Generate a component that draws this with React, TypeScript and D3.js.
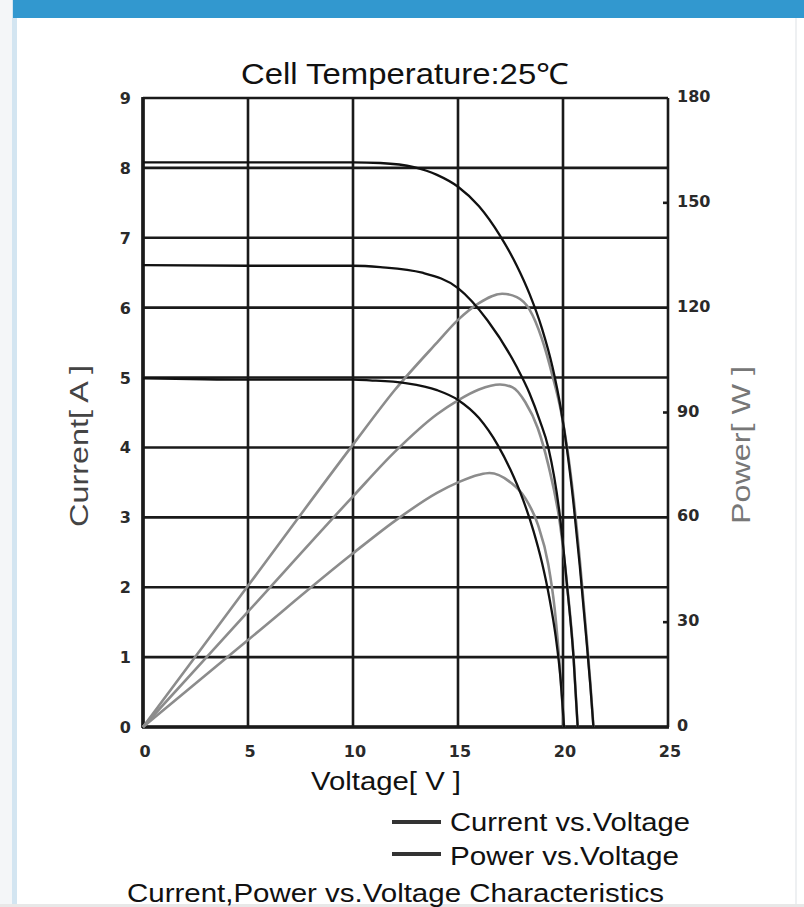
import React from "react";
import * as d3 from "d3";

const width = 804;
const height = 907;

// current vs voltage, three irradiance levels
const ivVoltsHigh = [0, 5, 10, 11.3, 12.9, 14, 15, 16, 17, 17.8, 18.4, 19.0, 19.5, 19.9, 20.2, 20.5, 20.8, 21.1, 21.3, 21.45];
const ivAmpsHigh = [8.08, 8.08, 8.08, 8.07, 8.01, 7.9, 7.73, 7.45, 7.03, 6.6, 6.2, 5.7, 5.15, 4.55, 3.95, 3.2, 2.3, 1.3, 0.6, 0];

const ivVoltsMid = [0, 5, 10, 11.3, 13.3, 15, 16.4, 17.8, 18.4, 18.9, 19.3, 19.86, 20.2, 20.5, 20.7];
const ivAmpsMid = [6.61, 6.6, 6.6, 6.58, 6.5, 6.28, 5.82, 5.15, 4.78, 4.38, 4.0, 3.0, 2.0, 1.0, 0];

const ivVoltsLow = [0, 5, 10, 10.8, 12.5, 14, 15, 16, 16.9, 17.5, 18.1, 18.6, 19.0, 19.35, 19.65, 19.88, 20.05];
const ivAmpsLow = [4.99, 4.97, 4.97, 4.96, 4.92, 4.82, 4.68, 4.42, 4.03, 3.68, 3.25, 2.8, 2.35, 1.85, 1.3, 0.7, 0];

// power vs voltage
const pvVoltsHigh = [0, 5, 10, 12, 14, 15, 16, 17.1, 17.8, 18.4, 19.0, 19.5, 19.9, 20.2, 20.5, 20.8, 21.1, 21.3, 21.45];
const pvWattsHigh = [0, 40.4, 80.8, 96.5, 110, 116.5, 121.3, 124, 123, 119.5, 111, 100.5, 90.5, 79.8, 65.6, 47.8, 27.4, 12.8, 0];

const pvVoltsMid = [0, 5, 10, 12, 14, 15, 16, 17, 17.6, 18.2, 18.8, 19.3, 19.86, 20.2, 20.5, 20.7];
const pvWattsMid = [0, 33, 66, 78.8, 89.5, 93.5, 96.6, 98, 97.2, 93, 85.5, 75, 58, 40.4, 20.5, 0];

const pvVoltsLow = [0, 5, 10, 12, 14, 15, 16, 16.5, 17.5, 18.2, 18.8, 19.3, 19.6, 19.85, 20.05];
const pvWattsLow = [0, 24.9, 49.7, 59, 67, 70, 72.2, 72.7, 70, 65.5, 58, 46.5, 34, 17, 0];

const voltTicks = [0, 5, 10, 15, 20, 25];
const ampTicks = [0, 1, 2, 3, 4, 5, 6, 7, 8, 9];
const wattTicks = [0, 30, 60, 90, 120, 150, 180];

const ivSeries = [
  [ivVoltsHigh, ivAmpsHigh],
  [ivVoltsMid, ivAmpsMid],
  [ivVoltsLow, ivAmpsLow],
];
const pvSeries = [
  [pvVoltsHigh, pvWattsHigh],
  [pvVoltsMid, pvWattsMid],
  [pvVoltsLow, pvWattsLow],
];

const font = "'Liberation Sans', Arial, sans-serif";
const tickFont = "'DejaVu Sans', sans-serif";

export default function App() {
  const left = 143, right = 668, top = 98, bottom = 727;
  const x = d3.scaleLinear().domain([0, 25]).range([left, right]);
  const y = d3.scaleLinear().domain([0, 9]).range([bottom, top]);
  const yP = d3.scaleLinear().domain([0, 180]).range([bottom, top]);

  const ivLine = d3
    .line<[number, number]>()
    .x((d) => x(d[0]))
    .y((d) => y(d[1]))
    .curve(d3.curveMonotoneX);
  const pvLine = d3
    .line<[number, number]>()
    .x((d) => x(d[0]))
    .y((d) => yP(d[1]))
    .curve(d3.curveMonotoneX);

  const pairs = (xs: number[], ys: number[]) =>
    xs.map((v, i) => [v, ys[i]] as [number, number]);

  return (
    <svg
      width={width}
      height={height}
      style={{ position: "absolute", left: 0, top: 0, background: "#fff" }}
    >
      {/* page frame */}
      <rect x={0} y={0} width={width} height={height} fill="#fff" />
      <rect x={0} y={0} width={13} height={height} fill="#f4f6f8" />
      <rect x={12} y={0} width={5} height={height} fill="#d3e5f1" />
      <rect x={13} y={0} width={width - 13} height={18} fill="#3298cf" />
      <rect x={795} y={18} width={2} height={height - 18} fill="#eef0f2" />
      <rect x={0} y={904} width={width} height={3} fill="#e8e8e8" />

      <text
        x={405}
        y={84}
        textAnchor="middle"
        fontFamily={font}
        fontSize={29}
        fill="#111"
        textLength={328}
        lengthAdjust="spacingAndGlyphs"
      >
        Cell Temperature:25℃
      </text>

      {/* grid */}
      <g stroke="#1a1a1a" strokeWidth={2.6}>
        {ampTicks.map((d) => (
          <line key={"h" + d} x1={left} x2={right} y1={y(d)} y2={y(d)} />
        ))}
        {voltTicks.map((d) => (
          <line key={"v" + d} x1={x(d)} x2={x(d)} y1={top} y2={bottom} />
        ))}
        <line x1={left} x2={left} y1={top - 1} y2={bottom + 1} strokeWidth={3.6} />
        <line x1={left - 1} x2={right + 1} y1={bottom} y2={bottom} strokeWidth={3.6} />
        {wattTicks
          .filter((d) => d % 60 !== 0)
          .map((d) => (
            <line key={"t" + d} x1={right - 5} x2={right} y1={yP(d)} y2={yP(d)} />
          ))}
      </g>

      {/* power curves */}
      <g fill="none" stroke="#8c8c8c" strokeWidth={2.6}>
        {pvSeries.map(([xs, ys], i) => (
          <path key={i} d={pvLine(pairs(xs, ys)) || ""} />
        ))}
      </g>
      {/* current curves */}
      <g fill="none" stroke="#111" strokeWidth={2.3}>
        {ivSeries.map(([xs, ys], i) => (
          <path key={i} d={ivLine(pairs(xs, ys)) || ""} />
        ))}
      </g>

      {/* tick labels */}
      <g fontFamily={tickFont} fontSize={16} fontWeight="bold" fill="#2a2a2a">
        {ampTicks.map((d) => (
          <text key={"a" + d} x={131} y={y(d) + 6} textAnchor="end">
            {d}
          </text>
        ))}
        {voltTicks.map((d) => (
          <text key={"x" + d} x={x(d) + 2} y={757} textAnchor="middle">
            {d}
          </text>
        ))}
        {wattTicks.map((d) => (
          <text key={"w" + d} x={677} y={yP(d) + 4} textAnchor="start">
            {d}
          </text>
        ))}
      </g>

      {/* axis titles */}
      <text
        x={386}
        y={790}
        textAnchor="middle"
        fontFamily={font}
        fontSize={25}
        fill="#111"
        textLength={150}
        lengthAdjust="spacingAndGlyphs"
      >
        Voltage[ V ]
      </text>
      <text
        transform={`translate(88,446) rotate(-90)`}
        textAnchor="middle"
        fontFamily={font}
        fontSize={25}
        fill="#444"
        textLength={162}
        lengthAdjust="spacingAndGlyphs"
      >
        Current[ A ]
      </text>
      <text
        transform={`translate(750,445) rotate(-90)`}
        textAnchor="middle"
        fontFamily={font}
        fontSize={25}
        fill="#777"
        textLength={158}
        lengthAdjust="spacingAndGlyphs"
      >
        Power[ W ]
      </text>

      {/* legend */}
      <g fontFamily={font} fontSize={25} fill="#111">
        <line x1={392} x2={441} y1={822} y2={822} stroke="#333" strokeWidth={4} />
        <text x={450} y={831} textLength={240} lengthAdjust="spacingAndGlyphs">
          Current vs.Voltage
        </text>
        <line x1={392} x2={441} y1={854} y2={854} stroke="#333" strokeWidth={4} />
        <text x={450} y={865} textLength={229} lengthAdjust="spacingAndGlyphs">
          Power vs.Voltage
        </text>
        <text x={127} y={902} textLength={537} lengthAdjust="spacingAndGlyphs">
          Current,Power vs.Voltage Characteristics
        </text>
      </g>
    </svg>
  );
}
